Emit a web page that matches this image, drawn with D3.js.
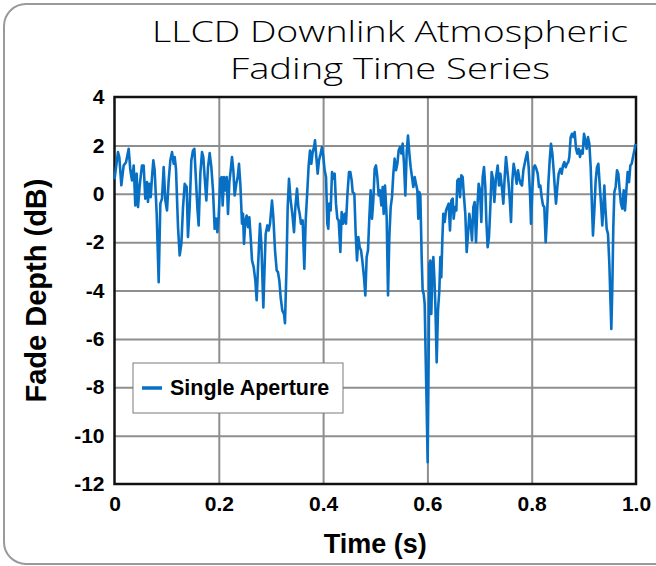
<!DOCTYPE html>
<html lang="en">
<head>
<meta charset="UTF-8">
<title>LLCD Downlink Atmospheric Fading Time Series</title>
<script src="https://cdnjs.cloudflare.com/ajax/libs/d3/7.8.5/d3.min.js"></script>
<style>
    body { margin: 0; background: #fff; }
    svg text { font-family: "Liberation Sans", Arial, sans-serif; fill: #000; }
    .grid line { stroke: #8e8e8e; stroke-width: 2px; }
    .grid path { display: none; }
    .axis path, .axis line { display: none; }
    .axis text { font-size: 21px; font-weight: bold; }
    .title { font-family: "Open Sans", "DejaVu Sans", sans-serif !important; font-weight: 300; font-size: 30px; }
</style>
</head>
<body>
<svg id="chart" width="656" height="566"></svg>
<script>
    // time (s) and fade depth (dB)
    var timeS = [
        0.0, 0.0067, 0.0093, 0.0131, 0.0176, 0.0221, 0.0272, 0.0304, 0.0336, 0.0368,
        0.0399, 0.0425, 0.0451, 0.0483, 0.0527, 0.0559, 0.0591, 0.0623, 0.0642, 0.0668,
        0.0694, 0.0719, 0.0745, 0.077, 0.0809, 0.0847, 0.0879, 0.0911, 0.0943, 0.0975,
        0.1007, 0.1039, 0.1071, 0.1103, 0.1135, 0.1154, 0.1179, 0.1218, 0.125, 0.1282,
        0.1314, 0.1346, 0.1384,
        0.1409, 0.1441, 0.1473, 0.1505, 0.1531, 0.1556, 0.1588, 0.1614, 0.1646, 0.1678,
        0.1703, 0.1729, 0.1761, 0.1793, 0.1825, 0.1857, 0.1889, 0.1921, 0.1946, 0.1972,
        0.1997, 0.2029, 0.2055, 0.2074, 0.21, 0.2125, 0.2151, 0.2176, 0.2202, 0.2228,
        0.2253, 0.2279, 0.2304, 0.2336, 0.2362, 0.2387, 0.2413, 0.2445, 0.2464, 0.2483,
        0.2509, 0.2534, 0.256, 0.2585, 0.2611, 0.2637, 0.2669, 0.2701, 0.2726, 0.2752,
        0.279, 0.2816, 0.2854, 0.288,
        0.2899, 0.2931, 0.2956, 0.2982, 0.302, 0.3046, 0.3078, 0.311, 0.3135, 0.3161,
        0.3186, 0.3218, 0.325, 0.3269, 0.3295, 0.3321, 0.3346, 0.3378, 0.341, 0.3442,
        0.3468, 0.35, 0.3525, 0.3551, 0.3576, 0.3608, 0.364, 0.3666, 0.3698, 0.3723,
        0.3749, 0.3774, 0.38, 0.3826, 0.3845, 0.387, 0.3896, 0.3921, 0.3953, 0.3979,
        0.4004, 0.403, 0.4056, 0.4081, 0.41, 0.4119, 0.4145, 0.4171, 0.4196, 0.4222,
        0.4247, 0.4273, 0.4299, 0.4331,
        0.4356, 0.4382, 0.4414, 0.4439, 0.4465, 0.4497, 0.4522, 0.4548, 0.4567, 0.4599,
        0.4625, 0.465, 0.4676, 0.4701, 0.4727, 0.4752, 0.4784, 0.481, 0.4835, 0.4861,
        0.4887, 0.4912, 0.4938, 0.4963, 0.4989, 0.5014, 0.504, 0.5066, 0.5091, 0.5117,
        0.5142, 0.5161, 0.5187, 0.5219, 0.5245, 0.527, 0.5296, 0.5321, 0.5347, 0.5372,
        0.5398, 0.5424, 0.5449, 0.5475, 0.55, 0.5526, 0.5551, 0.5577, 0.5603, 0.5628,
        0.5654, 0.5679, 0.5705, 0.573, 0.5756, 0.5781,
        0.5807, 0.5826, 0.5845, 0.5865, 0.589, 0.5909, 0.5929, 0.5948, 0.5967, 0.5986,
        0.6005, 0.6024, 0.6037, 0.6056, 0.6075, 0.6095, 0.6114, 0.6133, 0.6152, 0.6178,
        0.6203, 0.6229, 0.6248, 0.6267, 0.6286, 0.6305, 0.6331, 0.6357, 0.6382, 0.6408,
        0.6433, 0.6459, 0.6485, 0.6504, 0.6529, 0.6555, 0.6574, 0.66, 0.6625, 0.6651,
        0.6676, 0.6702, 0.6727, 0.6753, 0.6779, 0.6804, 0.683, 0.6855, 0.6881, 0.6906,
        0.6932, 0.6958, 0.6983, 0.7009, 0.7034, 0.706, 0.7085, 0.7111, 0.713, 0.7155,
        0.7181, 0.7207, 0.7232, 0.7258,
        0.7284, 0.7316, 0.7348, 0.7373, 0.7399, 0.7431, 0.7456, 0.7482, 0.7507, 0.7533,
        0.7558, 0.7584, 0.7603, 0.7629, 0.7654, 0.7686, 0.7712, 0.7737, 0.7763, 0.7789,
        0.7814, 0.784, 0.7865, 0.7891, 0.7916, 0.7942, 0.7968, 0.7987, 0.8012, 0.8038,
        0.8063, 0.8089, 0.8115, 0.814, 0.8166, 0.8191, 0.8217, 0.8242, 0.8268, 0.8293,
        0.8319, 0.8345, 0.837, 0.8396, 0.8421, 0.8447, 0.8466, 0.8492, 0.8517, 0.8549,
        0.8575, 0.86, 0.8626, 0.8651, 0.8677, 0.8702,
        0.8722, 0.8747, 0.8773, 0.8798, 0.8824, 0.885, 0.8875, 0.8901, 0.8926, 0.8952,
        0.8977, 0.9003, 0.9028, 0.9054, 0.908, 0.9105, 0.9131, 0.9156, 0.9175, 0.9201,
        0.9227, 0.9252, 0.9278, 0.9303, 0.9329, 0.9354, 0.9374, 0.9393, 0.9412, 0.9438,
        0.9463, 0.9489, 0.9508, 0.9527, 0.9546, 0.9565, 0.9585, 0.961, 0.9636, 0.9661,
        0.9687, 0.9712, 0.9738, 0.9764, 0.9789, 0.9815, 0.984, 0.9866, 0.9892, 0.9917,
        0.9943, 0.9968, 0.9994
    ];
    var fadeDb = [
        0.6, 1.72, 1.5, 0.35, 1.17, 1.3, 1.86, 0.97, 0.55, 1.17,
        -0.48, 0.83, -0.55, 0.35, 1.17, 1.17, -0.2, 0.48, -0.34, 0.41,
        -0.14, 0.69, 1.38, 0.97, -0.83, -3.66, -0.41, -0.2, 1.1, -0.28,
        -0.69, 0.55, 1.38, 1.72, 1.24, 1.52, 1.03, -1.38, -2.55, -2.07,
        -0.55, 0.41, 0.28,
        -1.79, -0.55, 1.38, 1.79, 1.86, 0.83, -0.55, -1.31, 0.83, 1.72,
        1.52, 0.69, -0.28, 1.1, 1.68, 1.1, 0.14, -1.45, -1.03, -1.59,
        -0.97, 0.62, 0.69, -0.48, 0.69, 0.14, 0.69, -0.83, 0.48, 0.97,
        1.52, 0.97, -0.07, 0.41, 0.69, 1.24, 0.41, -1.24, -0.83, -2.07,
        -1.1, -0.9, -1.38, -0.97, -1.79, -2.76, -3.03, -3.59, -4.4, -3.03,
        -1.24, -2.07, -4.7, -2.9,
        -1.66, -1.31, -1.52, -1.24, -0.28, -0.97, -2.34, -3.17, -3.24, -3.59,
        -4.28, -4.83, -4.97, -5.35, -3.31, -0.55, 0.62, -0.28, -0.83, -1.59,
        -0.55, 0.21, -0.55, -0.83, -1.24, -1.1, -3.1, -1.1, 0.14, 1.17,
        1.79, 1.24, 1.72, 1.93, 2.21, 1.52, 0.83, 1.38, 1.66, 1.93,
        1.52, 0.97, 0.69, -1.24, -1.45, -0.41, -0.69, 0.9, 0.62, 0.83,
        -0.41, -1.03, -1.1, -2.41,
        -0.76, -1.24, -0.83, -1.24, -0.07, 0.9, 0.9, 0.55, 0.07, 0.0,
        -1.66, -2.76, -1.79, -2.21, -2.34, -2.76, -3.45, -4.2, -2.62, -2.34,
        -0.97, 0.14, -1.03, -0.28, 1.03, 1.17, 0.69, -0.07, 0.14, -0.48,
        0.28, -0.83, 0.34, -0.97, -4.2, -1.79, -0.55, -0.14, 0.83, 1.45,
        0.97, 1.24, 1.79, 1.93, 1.66, 2.07, 1.24, -0.07, 1.72, 2.41,
        1.66, 1.1, 0.69, 0.28, 0.69, 0.41,
        0.14, -1.03, 0.07, -0.07, -2.62, -4.0, -4.14, -4.55, -6.76, -8.83,
        -11.1, -6.76, -2.9, -2.76, -4.97, -3.17, -2.62, -3.45, -4.55, -6.97,
        -4.83, -4.0, -2.62, -3.45, -1.93, -0.83, -1.17, -0.69, -0.55, -0.41,
        -1.52, -0.28, -0.2, -1.03, -0.55, -0.69, 0.55, 0.62, -0.14, 0.76,
        0.69, -0.14, -0.83, -2.41, -1.66, -0.83, -1.24, -1.93, -0.55, -0.34,
        -2.0, -0.55, 0.41, 0.14, -1.17, 0.69, 1.1, 0.28, -1.1, -2.21,
        -1.79, -0.55, 0.9, 0.62,
        -0.34, 0.69, 1.17, 0.34, 0.83, 0.21, -0.41, 0.69, 1.52, 0.97,
        0.41, -0.41, -1.17, 0.55, 1.24, 0.83, 0.41, 0.97, 0.62, 0.41,
        0.34, 0.97, 1.24, 1.52, 1.72, 1.1, 0.0, -1.24, 0.14, 1.1,
        1.17, 1.03, 0.83, 0.28, 0.34, -0.14, -0.48, -0.55, -2.0, -0.97,
        0.41, 1.38, 2.07, 1.66, 0.97, 0.14, -0.41, 0.28, 0.83, 1.03,
        0.83, 1.17, 1.31, 1.1, 1.24, 1.31,
        1.52, 2.34, 2.48, 2.34, 2.55, 1.86, 1.66, 1.86, 1.52, 1.79,
        1.66, 2.48, 2.21, 1.86, 2.34, 2.07, 1.1, -0.55, -1.72, -0.69,
        0.55, 1.1, 1.24, 0.41, -0.41, -1.31, -0.55, 0.34, -0.55, -1.45,
        -1.66, -2.9, -4.28, -5.59, -3.86, -1.38, 0.07, 0.28, 0.97, 0.83,
        0.14, -0.41, -0.62, 0.14, -0.69, 0.14, 0.9, 0.48, 1.17, 1.24,
        1.52, 1.79, 2.07
    ];

    var xTickValues = [0, 0.2, 0.4, 0.6, 0.8, 1.0];
    var xTickLabels = ["0", "0.2", "0.4", "0.6", "0.8", "1.0"];
    var yTickValues = [4, 2, 0, -2, -4, -6, -8, -10, -12];
    var yTickLabels = ["4", "2", "0", "-2", "-4", "-6", "-8", "-10", "-12"];
    var seriesName = "Single Aperture";
    var titleLines = ["LLCD Downlink Atmospheric", "Fading Time Series"];

    var svg = d3.select("#chart");
    var plotL = 114.5, plotR = 636, plotT = 97, plotB = 484;
    var w = plotR - plotL, h = plotB - plotT;
    var blue = "#0870c4";

    // outer frame, rounded, runs off the right side
    svg.append("rect")
        .attr("x", 4).attr("y", 4)
        .attr("width", 700).attr("height", 560)
        .attr("rx", 22)
        .attr("fill", "none")
        .attr("stroke", "#9a9a9a")
        .attr("stroke-width", 2);

    // title
    svg.selectAll(".title")
        .data(titleLines)
        .enter().append("text")
        .attr("class", "title")
        .attr("x", 390)
        .attr("y", function (d, i) { return 42 + i * 37; })
        .attr("text-anchor", "middle")
        .attr("textLength", function (d, i) { return i === 0 ? 476 : 320; })
        .attr("lengthAdjust", "spacingAndGlyphs")
        .text(function (d) { return d; });

    var x = d3.scaleLinear().domain([0, 1]).range([0, w]);
    var y = d3.scaleLinear().domain([-12, 4]).range([h, 0]);

    var g = svg.append("g").attr("transform", "translate(" + plotL + "," + plotT + ")");

    // gridlines
    g.append("g")
        .attr("class", "grid")
        .call(d3.axisBottom(x).tickValues(xTickValues.slice(1, -1)).tickSize(h).tickFormat(""));
    g.append("g")
        .attr("class", "grid")
        .call(d3.axisLeft(y).tickValues(yTickValues.slice(1, -1)).tickSize(-w).tickFormat(""));

    // plot frame
    g.append("rect")
        .attr("width", w).attr("height", h)
        .attr("fill", "none")
        .attr("stroke", "#111")
        .attr("stroke-width", 2.5);

    // the series
    var pts = timeS.map(function (t, i) { return [t, fadeDb[i]]; });
    var line = d3.line()
        .x(function (d) { return x(d[0]); })
        .y(function (d) { return y(d[1]); });

    g.append("path")
        .datum(pts)
        .attr("d", line)
        .attr("fill", "none")
        .attr("stroke", blue)
        .attr("stroke-width", 2.6)
        .attr("stroke-linejoin", "round");

    // axes
    g.append("g")
        .attr("class", "axis")
        .attr("transform", "translate(0," + h + ")")
        .call(d3.axisBottom(x).tickValues(xTickValues).tickSize(0).tickPadding(12)
            .tickFormat(function (d, i) { return xTickLabels[i]; }));
    g.append("g")
        .attr("class", "axis")
        .call(d3.axisLeft(y).tickValues(yTickValues).tickSize(0).tickPadding(10)
            .tickFormat(function (d, i) { return yTickLabels[i]; }));

    // axis titles
    svg.append("text")
        .attr("x", plotL + w / 2)
        .attr("y", 553)
        .attr("text-anchor", "middle")
        .style("font-size", "27px")
        .style("font-weight", "bold")
        .text("Time (s)");
    svg.append("text")
        .attr("transform", "translate(46," + (plotT + h / 2) + ") rotate(-90)")
        .attr("text-anchor", "middle")
        .style("font-size", "29px")
        .style("font-weight", "bold")
        .text("Fade Depth (dB)");

    // legend
    var lg = svg.append("g").attr("transform", "translate(133,363)");
    lg.append("rect")
        .attr("width", 210).attr("height", 50)
        .attr("fill", "#fff")
        .attr("stroke", "#7a7a7a")
        .attr("stroke-width", 1);
    lg.append("line")
        .attr("x1", 9).attr("x2", 29)
        .attr("y1", 25).attr("y2", 25)
        .attr("stroke", blue)
        .attr("stroke-width", 3.5);
    lg.append("text")
        .attr("x", 37).attr("y", 32)
        .style("font-size", "21.5px")
        .style("font-weight", "bold")
        .text(seriesName);
</script>
</body>
</html>
